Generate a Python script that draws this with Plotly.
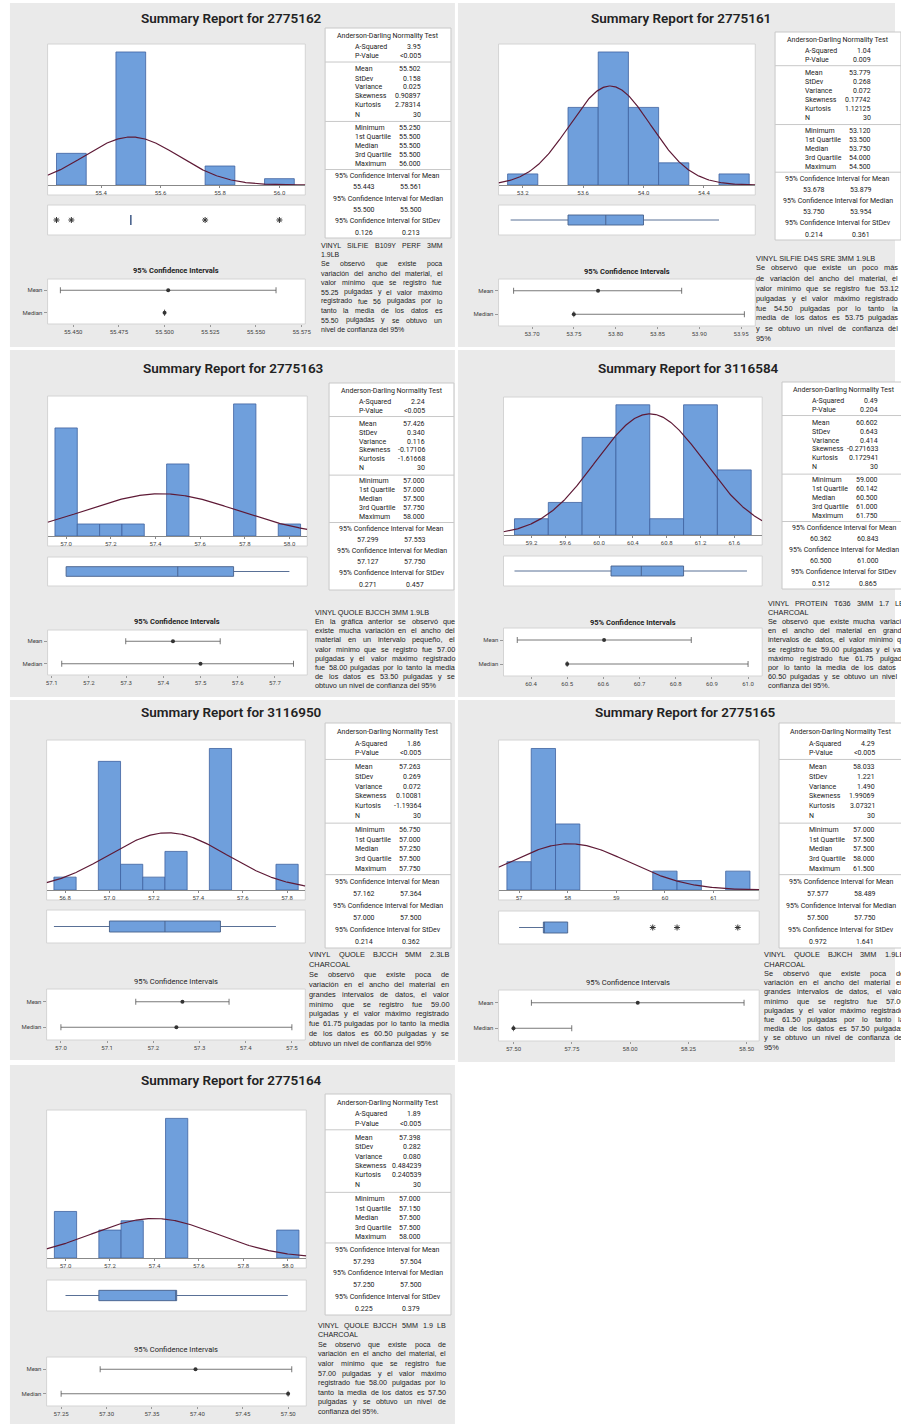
import numpy as np
import plotly.graph_objects as go

W, H = 901, 1424

# ======================= DATA =======================
# ---- Panel 1 : 2775162
p1_id = "2775162"
p1_bin_centers = [55.3, 55.5, 55.8, 56.0]
p1_bin_counts = [5, 21, 3, 1]
p1_bin_width = 0.1
p1_hist_ticks = ["55.4", "55.6", "55.8", "56.0"]
p1_ad = ["3.95", "<0.005"]
p1_desc = ["55.502", "0.158", "0.025", "0.90897", "2.78314", "30"]
p1_quart = ["55.250", "55.500", "55.500", "55.500", "56.000"]
p1_ci = [["55.443", "55.561"], ["55.500", "55.500"], ["0.126", "0.213"]]
p1_whiskers = [55.5, 55.5]
p1_outliers = [55.25, 55.30, 55.75, 56.0]
p1_ci_ticks = ["55.450", "55.475", "55.500", "55.525", "55.550", "55.575"]
p1_note = ["VINYL SILFIE B109Y PERF 3MM", "1.9LB", "Se observó que existe poca",
           "variación del ancho del material, el", "valor mínimo que se registro fue",
           "55.25 pulgadas y el valor máximo", "registrado fue 56 pulgadas por lo",
           "tanto la media de los datos es", "55.50 pulgadas y se obtuvo un",
           "nivel de confianza del 95%"]

# ---- Panel 2 : 2775161
p2_id = "2775161"
p2_bin_centers = [53.2, 53.6, 53.8, 54.0, 54.2, 54.6]
p2_bin_counts = [1, 7, 12, 7, 2, 1]
p2_bin_width = 0.2
p2_hist_ticks = ["53.2", "53.6", "54.0", "54.4"]
p2_ad = ["1.04", "0.009"]
p2_desc = ["53.779", "0.268", "0.072", "0.17742", "1.12125", "30"]
p2_quart = ["53.120", "53.500", "53.750", "54.000", "54.500"]
p2_ci = [["53.678", "53.879"], ["53.750", "53.954"], ["0.214", "0.361"]]
p2_whiskers = [53.12, 54.5]
p2_outliers = []
p2_ci_ticks = ["53.70", "53.75", "53.80", "53.85", "53.90", "53.95"]
p2_note = ["VINYL SILFIE D4S SRE 3MM 1.9LB", "Se observó que existe un poco más",
           "de variación del ancho del material, el", "valor mínimo que se registro fue 53.12",
           "pulgadas y el valor máximo registrado", "fue 54.50 pulgadas por lo tanto la",
           "media de los datos es 53.75 pulgadas", "y se obtuvo un nivel de confianza del",
           "95%"]

# ---- Panel 3 : 2775163
p3_id = "2775163"
p3_bin_centers = [57.0, 57.1, 57.2, 57.3, 57.5, 57.8, 58.0]
p3_bin_counts = [9, 1, 1, 1, 6, 11, 1]
p3_bin_width = 0.1
p3_hist_ticks = ["57.0", "57.2", "57.4", "57.6", "57.8", "58.0"]
p3_ad = ["2.24", "<0.005"]
p3_desc = ["57.426", "0.340", "0.116", "-0.17106", "-1.61668", "30"]
p3_quart = ["57.000", "57.000", "57.500", "57.750", "58.000"]
p3_ci = [["57.299", "57.553"], ["57.127", "57.750"], ["0.271", "0.457"]]
p3_whiskers = [57.0, 58.0]
p3_outliers = []
p3_ci_ticks = ["57.1", "57.2", "57.3", "57.4", "57.5", "57.6", "57.7"]
p3_note = ["VINYL QUOLE BJCCH 3MM 1.9LB", "En la gráfica anterior se observó que",
           "existe mucha variación en el ancho del", "material en un intervalo pequeño, el",
           "valor mínimo que se registro fue 57.00", "pulgadas y el valor máximo registrado",
           "fue 58.00 pulgadas por lo tanto la media", "de los datos es 53.50 pulgadas y se",
           "obtuvo un nivel de confianza del 95%"]

# ---- Panel 4 : 3116584
p4_id = "3116584"
p4_bin_centers = [59.2, 59.6, 60.0, 60.4, 60.8, 61.2, 61.6]
p4_bin_counts = [1, 2, 6, 8, 1, 8, 4]
p4_bin_width = 0.4
p4_hist_ticks = ["59.2", "59.6", "60.0", "60.4", "60.8", "61.2", "61.6"]
p4_ad = ["0.49", "0.204"]
p4_desc = ["60.602", "0.643", "0.414", "-0.271633", "0.172941", "30"]
p4_quart = ["59.000", "60.142", "60.500", "61.000", "61.750"]
p4_ci = [["60.362", "60.843"], ["60.500", "61.000"], ["0.512", "0.865"]]
p4_whiskers = [59.0, 61.75]
p4_outliers = []
p4_ci_ticks = ["60.4", "60.5", "60.6", "60.7", "60.8", "60.9", "61.0"]
p4_note = ["VINYL PROTEIN T636 3MM 1.7 LBS", "CHARCOAL",
           "Se observó que existe mucha variación", "en el ancho del material en grandes",
           "intervalos de datos, el valor mínimo que", "se registro fue 59.00 pulgadas y el valor",
           "máximo registrado fue 61.75 pulgadas", "por lo tanto la media de los datos es",
           "60.50 pulgadas y se obtuvo un nivel de", "confianza del 95%."]

# ---- Panel 5 : 3116950
p5_id = "3116950"
p5_bin_centers = [56.8, 57.0, 57.1, 57.2, 57.3, 57.5, 57.8]
p5_bin_counts = [1, 10, 2, 1, 3, 11, 2]
p5_bin_width = 0.1
p5_hist_ticks = ["56.8", "57.0", "57.2", "57.4", "57.6", "57.8"]
p5_ad = ["1.86", "<0.005"]
p5_desc = ["57.263", "0.269", "0.072", "0.10081", "-1.19364", "30"]
p5_quart = ["56.750", "57.000", "57.250", "57.500", "57.750"]
p5_ci = [["57.162", "57.364"], ["57.000", "57.500"], ["0.214", "0.362"]]
p5_whiskers = [56.75, 57.75]
p5_outliers = []
p5_ci_ticks = ["57.0", "57.1", "57.2", "57.3", "57.4", "57.5"]
p5_note = ["VINYL QUOLE BJCCH 5MM 2.3LB", "CHARCOAL", "Se observó que existe poca de",
           "variación en el ancho del material en", "grandes intervalos de datos, el valor",
           "mínimo que se registro fue 59.00", "pulgadas y el valor máximo registrado",
           "fue 61.75 pulgadas por lo tanto la media", "de los datos es 60.50 pulgadas y se",
           "obtuvo un nivel de confianza del 95%"]

# ---- Panel 6 : 2775165
p6_id = "2775165"
p6_bin_centers = [57.0, 57.5, 58.0, 60.0, 60.5, 61.5]
p6_bin_counts = [3, 15, 7, 2, 1, 2]
p6_bin_width = 0.5
p6_hist_ticks = ["57", "58", "59", "60", "61"]
p6_ad = ["4.29", "<0.005"]
p6_desc = ["58.033", "1.221", "1.490", "1.99069", "3.07321", "30"]
p6_quart = ["57.000", "57.500", "57.500", "58.000", "61.500"]
p6_ci = [["57.577", "58.489"], ["57.500", "57.750"], ["0.972", "1.641"]]
p6_whiskers = [57.0, 58.0]
p6_outliers = [59.75, 60.25, 61.5]
p6_ci_ticks = ["57.50", "57.75", "58.00", "58.25", "58.50"]
p6_note = ["VINYL QUOLE BJKCH 3MM 1.9LB", "CHARCOAL", "Se observó que existe poca de",
           "variación en el ancho del material en", "grandes intervalos de datos, el valor",
           "mínimo que se registro fue 57.00", "pulgadas y el valor máximo registrado",
           "fue 61.50 pulgadas por lo tanto la", "media de los datos es 57.50 pulgadas",
           "y se obtuvo un nivel de confianza del", "95%"]

# ---- Panel 7 : 2775164
p7_id = "2775164"
p7_bin_centers = [57.0, 57.2, 57.3, 57.5, 58.0]
p7_bin_counts = [5, 3, 4, 15, 3]
p7_bin_width = 0.1
p7_hist_ticks = ["57.0", "57.2", "57.4", "57.6", "57.8", "58.0"]
p7_ad = ["1.89", "<0.005"]
p7_desc = ["57.398", "0.282", "0.080", "0.484239", "0.240539", "30"]
p7_quart = ["57.000", "57.150", "57.500", "57.500", "58.000"]
p7_ci = [["57.293", "57.504"], ["57.250", "57.500"], ["0.225", "0.379"]]
p7_whiskers = [57.0, 58.0]
p7_outliers = []
p7_ci_ticks = ["57.25", "57.30", "57.35", "57.40", "57.45", "57.50"]
p7_note = ["VINYL QUOLE BJCCH 5MM 1.9 LB", "CHARCOAL", "Se observó que existe poca de",
           "variación en el ancho del material, el", "valor mínimo que se registro fue",
           "57.00 pulgadas y el valor máximo", "registrado fue 58.00 pulgadas por lo",
           "tanto la media de los datos es 57.50", "pulgadas y se obtuvo un nivel de",
           "confianza del 95%."]

ad_labels = ["A-Squared", "P-Value"]
desc_labels = ["Mean", "StDev", "Variance", "Skewness", "Kurtosis", "N"]
quart_labels = ["Minimum", "1st Quartile", "Median", "3rd Quartile", "Maximum"]
ci_headers = ["95% Confidence Interval for Mean", "95% Confidence Interval for Median",
              "95% Confidence Interval for StDev"]

# ======================= LAYOUT GEOMETRY (pixels) =======================
# note=(left, first line y, line spacing, block width, font size), para=indices of paragraph-ending lines
geo = [
    dict(bg=(8, 3, 457, 347), title=(232, 18), hist=(46, 44, 306, 185), box=(46, 205, 306, 235),
         cit=(176, 270), ci=(46, 279, 306, 324), table=(326, 28, 453, 238),
         note=(321, 245, 9.4, 122, 7.0), para=(1,),
         hr=(55.22, 56.087), cr=(55.436, 55.577), bold=True),
    dict(bg=(460, 3, 901, 347), title=(685, 18), hist=(501, 44, 760, 185), box=(501, 205, 760, 235),
         cit=(631, 271), ci=(501, 279, 760, 326), table=(780, 32, 907, 240),
         note=(760, 258, 10.0, 143, 7.4), para=(0,),
         hr=(53.04, 54.74), cr=(53.660, 53.967), bold=True),
    dict(bg=(8, 350, 457, 697), title=(234, 368), hist=(46, 396, 308, 536), box=(46, 557, 308, 586),
         cit=(177, 621), ci=(46, 630, 308, 675), table=(330, 383, 456, 590),
         note=(315, 612, 9.25, 141, 7.3), para=(0,),
         hr=(56.917, 58.08), cr=(57.089, 57.787), bold=True),
    dict(bg=(460, 350, 901, 697), title=(693, 368), hist=(506, 397, 767, 535), box=(506, 556, 767, 586),
         cit=(637, 622), ci=(506, 628, 767, 676), table=(787, 382, 914, 589),
         note=(772, 603, 9.2, 142, 7.3), para=(1,),
         hr=(58.87, 61.93), cr=(60.324, 61.039), bold=True),
    dict(bg=(8, 700, 457, 1060), title=(232, 712), hist=(45, 740, 306, 890), box=(45, 910, 306, 943),
         cit=(176, 981), ci=(45, 989, 306, 1040), table=(326, 723, 453, 948),
         note=(309, 955, 9.8, 141, 7.4), para=(1,),
         hr=(56.717, 57.882), cr=(56.969, 57.529), bold=False),
    dict(bg=(460, 700, 901, 1062), title=(690, 712), hist=(501, 740, 764, 890), box=(501, 911, 764, 944),
         cit=(632, 982), ci=(501, 990, 764, 1041), table=(784, 723, 911, 948),
         note=(768, 955, 9.2, 141, 7.4), para=(1,),
         hr=(56.578, 61.94), cr=(57.436, 58.554), bold=False),
    dict(bg=(8, 1065, 457, 1424), title=(232, 1080), hist=(45, 1110, 307, 1258), box=(45, 1280, 307, 1311),
         cit=(176, 1349), ci=(45, 1357, 307, 1406), table=(326, 1094, 453, 1315),
         note=(318, 1325, 9.6, 129, 7.2), para=(1,),
         hr=(56.915, 58.083), cr=(57.234, 57.52), bold=False),
]

panels = []
for k in range(1, 8):
    g = globals()
    panels.append(dict(
        id=g[f"p{k}_id"], centers=g[f"p{k}_bin_centers"], counts=g[f"p{k}_bin_counts"],
        bw=g[f"p{k}_bin_width"], hticks=g[f"p{k}_hist_ticks"], ad=g[f"p{k}_ad"],
        desc=g[f"p{k}_desc"], quart=g[f"p{k}_quart"], ci=g[f"p{k}_ci"],
        whiskers=g[f"p{k}_whiskers"], outliers=g[f"p{k}_outliers"],
        cticks=g[f"p{k}_ci_ticks"], note=g[f"p{k}_note"]))

BLUE = "#6f9fdc"
BLUE_EDGE = "#3f62a0"
CURVE = "#5e1a36"
TXT = "#222222"
TFONT = "Roboto"
NFONT = "Liberation Sans"

# Arial / Liberation Sans advance widths (1/1000 em) for justification
_AW = {" ": 278, ".": 278, ",": 278, "%": 889, "-": 333, "i": 222, "j": 222, "l": 222, "f": 278,
       "t": 278, "r": 333, "c": 500, "k": 500, "s": 500, "v": 500, "x": 500, "y": 500, "z": 500,
       "m": 833, "w": 722, "I": 278, "J": 500, "L": 556, "F": 611, "T": 611, "Z": 611,
       "C": 722, "D": 722, "H": 722, "N": 722, "R": 722, "U": 722, "G": 778, "O": 778, "Q": 778,
       "M": 833, "W": 944, "ó": 556, "á": 556, "í": 278, "é": 556, "ñ": 556, "ú": 556}


def char_w(c):
    if c in _AW:
        return _AW[c]
    if c.isupper():
        return 667
    return 556


def text_w(s, size):
    return sum(char_w(c) for c in s) * size / 1000.0


def fx(x):
    return x / W


def fy(y):
    return 1 - y / H


fig = go.Figure()
shapes = []
annots = []
layout_axes = {}

# table row template (fraction of table height)
ROW_HDR = 0.039
ROW_AD = [0.092, 0.134]
SEP = [0.162, 0.445, 0.674]
ROW_DESC = [0.197, 0.241, 0.283, 0.326, 0.368, 0.412]
ROW_Q = [0.475, 0.519, 0.562, 0.605, 0.647]
ROW_CIH = [0.705, 0.812, 0.919]
ROW_CIV = [0.759, 0.865, 0.974]


def ax_names(n):
    return ("xaxis" if n == 1 else f"xaxis{n}", "yaxis" if n == 1 else f"yaxis{n}",
            "x" if n == 1 else f"x{n}", "y" if n == 1 else f"y{n}")


def add_text(x, y, text, size=7, anchor="left", family=TFONT, weight="normal", color=TXT):
    annots.append(dict(x=fx(x), y=fy(y), xref="paper", yref="paper", text=text, showarrow=False,
                       xanchor=anchor, yanchor="middle", borderpad=0, xshift=0,
                       font=dict(family=family, size=size, color=color, weight=weight)))


for k, (p, gm) in enumerate(zip(panels, geo)):
    # panel background
    x0, y0, x1, y1 = gm["bg"]
    shapes.append(dict(type="rect", xref="paper", yref="paper", x0=fx(x0), x1=fx(x1), y0=fy(y1), y1=fy(y0),
                       fillcolor="#eaeaea", line=dict(width=0), layer="below"))
    # frames
    hx0, hy0, hx1, hy1 = gm["hist"]
    for (a, b, c, d) in [(hx0, hy0, hx1, hy1 + 10), gm["box"], gm["ci"]]:
        shapes.append(dict(type="rect", xref="paper", yref="paper", x0=fx(a), x1=fx(c), y0=fy(d), y1=fy(b),
                           fillcolor="white", line=dict(color="#d4d4d4", width=1), layer="below"))
    # title
    add_text(gm["title"][0], gm["title"][1], f"Summary Report for {p['id']}", size=13.5, anchor="center",
             weight=600)
    add_text(gm["cit"][0], gm["cit"][1], "95% Confidence Intervals", size=7.5, anchor="center",
             weight="bold" if gm["bold"] else "normal")

    nh, nb, nc = 3 * k + 1, 3 * k + 2, 3 * k + 3
    mean = float(p["desc"][0])
    sd = float(p["desc"][1])
    n = int(p["desc"][5])
    q = [float(v) for v in p["quart"]]
    mci = [float(v) for v in p["ci"][0]]
    mdci = [float(v) for v in p["ci"][1]]

    # ---- histogram
    xa, ya, xr, yr = ax_names(nh)
    fig.add_trace(go.Bar(x=p["centers"], y=p["counts"], width=p["bw"], xaxis=xr, yaxis=yr,
                         marker=dict(color=BLUE, line=dict(color=BLUE_EDGE, width=0.8)),
                         showlegend=False, hoverinfo="skip"))
    r0, r1 = gm["hr"]
    xs = np.linspace(r0, r1, 300)
    ys = n * p["bw"] * np.exp(-0.5 * ((xs - mean) / sd) ** 2) / (sd * np.sqrt(2 * np.pi))
    fig.add_trace(go.Scatter(x=xs, y=ys, mode="lines", line=dict(color=CURVE, width=1.2),
                             xaxis=xr, yaxis=yr, showlegend=False, hoverinfo="skip"))
    ymax = max(max(p["counts"]), ys.max()) * 1.06
    layout_axes[xa] = dict(domain=[fx(hx0), fx(hx1)], range=[r0, r1], anchor=yr,
                           tickvals=[float(t) for t in p["hticks"]], ticktext=p["hticks"],
                           ticks="outside", ticklen=2, tickcolor="#888", showline=True, linecolor="#888",
                           linewidth=1, showgrid=False, zeroline=False,
                           tickfont=dict(family=TFONT, size=6, color="#444"))
    layout_axes[ya] = dict(domain=[fy(hy1), fy(hy0)], range=[0, ymax], anchor=xr, visible=False)

    # ---- boxplot
    bx0, by0, bx1, by1 = gm["box"]
    xa, ya, xr, yr = ax_names(nb)
    fig.add_trace(go.Box(y=[0], q1=[q[1]], median=[q[2]], q3=[q[3]],
                         lowerfence=[p["whiskers"][0]], upperfence=[p["whiskers"][1]],
                         orientation="h", width=1.0, fillcolor=BLUE, whiskerwidth=0,
                         line=dict(color="#46608a", width=0.9), boxpoints=False,
                         xaxis=xr, yaxis=yr, showlegend=False, hoverinfo="skip"))
    if p["outliers"]:
        fig.add_trace(go.Scatter(x=p["outliers"], y=[0] * len(p["outliers"]), mode="markers",
                                 marker=dict(symbol="asterisk-open", size=5, color="#333",
                                             line=dict(color="#333", width=1)),
                                 xaxis=xr, yaxis=yr, showlegend=False, hoverinfo="skip"))
    layout_axes[xa] = dict(domain=[fx(bx0), fx(bx1)], range=[r0, r1], anchor=yr, visible=False)
    layout_axes[ya] = dict(domain=[fy(by1), fy(by0)], range=[-1.5, 1.5], anchor=xr, visible=False)

    # ---- confidence intervals
    cx0, cy0, cx1, cy1 = gm["ci"]
    xa, ya, xr, yr = ax_names(nc)
    med = q[2]
    fig.add_trace(go.Scatter(x=[mean, med], y=[1, 0], mode="markers",
                             marker=dict(size=4, color="#333"),
                             error_x=dict(type="data", symmetric=False,
                                          array=[mci[1] - mean, mdci[1] - med],
                                          arrayminus=[mean - mci[0], med - mdci[0]],
                                          color="#555", thickness=0.8, width=3),
                             xaxis=xr, yaxis=yr, showlegend=False, hoverinfo="skip"))
    layout_axes[xa] = dict(domain=[fx(cx0), fx(cx1)], range=list(gm["cr"]), anchor=yr,
                           tickvals=[float(t) for t in p["cticks"]], ticktext=p["cticks"],
                           ticks="outside", ticklen=2, tickcolor="#999", showline=False,
                           showgrid=False, zeroline=False,
                           tickfont=dict(family=TFONT, size=6, color="#444"))
    layout_axes[ya] = dict(domain=[fy(cy1), fy(cy0)], range=[-0.5, 1.5], anchor=xr,
                           tickvals=[1, 0], ticktext=["Mean", "Median"], ticks="outside", ticklen=3,
                           tickcolor="#999", showgrid=False, zeroline=False, showline=False,
                           tickfont=dict(family=TFONT, size=6, color="#444"))

    # ---- stats table
    tx0, ty0, tx1, ty1 = gm["table"]
    th = ty1 - ty0
    shapes.append(dict(type="rect", xref="paper", yref="paper", x0=fx(tx0), x1=fx(tx1), y0=fy(ty1), y1=fy(ty0),
                       fillcolor="white", line=dict(color="#c8c8c8", width=1), layer="below"))
    for s in SEP:
        yy = ty0 + s * th
        shapes.append(dict(type="line", xref="paper", yref="paper", x0=fx(tx0), x1=fx(tx1), y0=fy(yy),
                           y1=fy(yy), line=dict(color="#c8c8c8", width=1)))
    cxm = tx0 + 63
    lx = tx0 + 29
    vx = tx0 + 98
    add_text(cxm, ty0 + ROW_HDR * th, "Anderson-Darling Normality Test", anchor="center")
    for lab, val, r in zip(ad_labels, p["ad"], ROW_AD):
        add_text(lx, ty0 + r * th, lab)
        add_text(vx, ty0 + r * th, val, anchor="right")
    for lab, val, r in zip(desc_labels, p["desc"], ROW_DESC):
        add_text(lx, ty0 + r * th, lab)
        add_text(vx, ty0 + r * th, val, anchor="right")
    for lab, val, r in zip(quart_labels, p["quart"], ROW_Q):
        add_text(lx, ty0 + r * th, lab)
        add_text(vx, ty0 + r * th, val, anchor="right")
    for hdr, vals, rh, rv in zip(ci_headers, p["ci"], ROW_CIH, ROW_CIV):
        add_text(cxm, ty0 + rh * th, hdr, anchor="center")
        add_text(tx0 + 39, ty0 + rv * th, vals[0], anchor="center")
        add_text(tx0 + 87, ty0 + rv * th, vals[1], anchor="center")

    # ---- note text (justified like the source)
    nx, ny, ns, nw, nsz = gm["note"]
    last = len(p["note"]) - 1
    for i, line in enumerate(p["note"]):
        yy = ny + i * ns
        words = line.split()
        justify = (i not in gm["para"]) and (i != last) and len(words) > 1
        if not justify:
            add_text(nx, yy, line, size=nsz, family=NFONT)
            continue
        widths = [text_w(wd, nsz) for wd in words]
        gap = (nw - sum(widths)) / (len(words) - 1)
        gap = max(gap, 0.6 * text_w(" ", nsz))
        xpos = nx
        for wd, ww in zip(words, widths):
            add_text(xpos, yy, wd, size=nsz, family=NFONT)
            xpos += ww + gap

fig.update_layout(
    width=W, height=H, margin=dict(l=0, r=0, t=0, b=0),
    paper_bgcolor="white", plot_bgcolor="rgba(0,0,0,0)",
    showlegend=False, shapes=shapes, annotations=annots, **layout_axes)

fig.write_html("out.html", config={"displayModeBar": False, "responsive": False},
               post_script="document.body.style.margin='0px';document.body.style.overflow='hidden';")
